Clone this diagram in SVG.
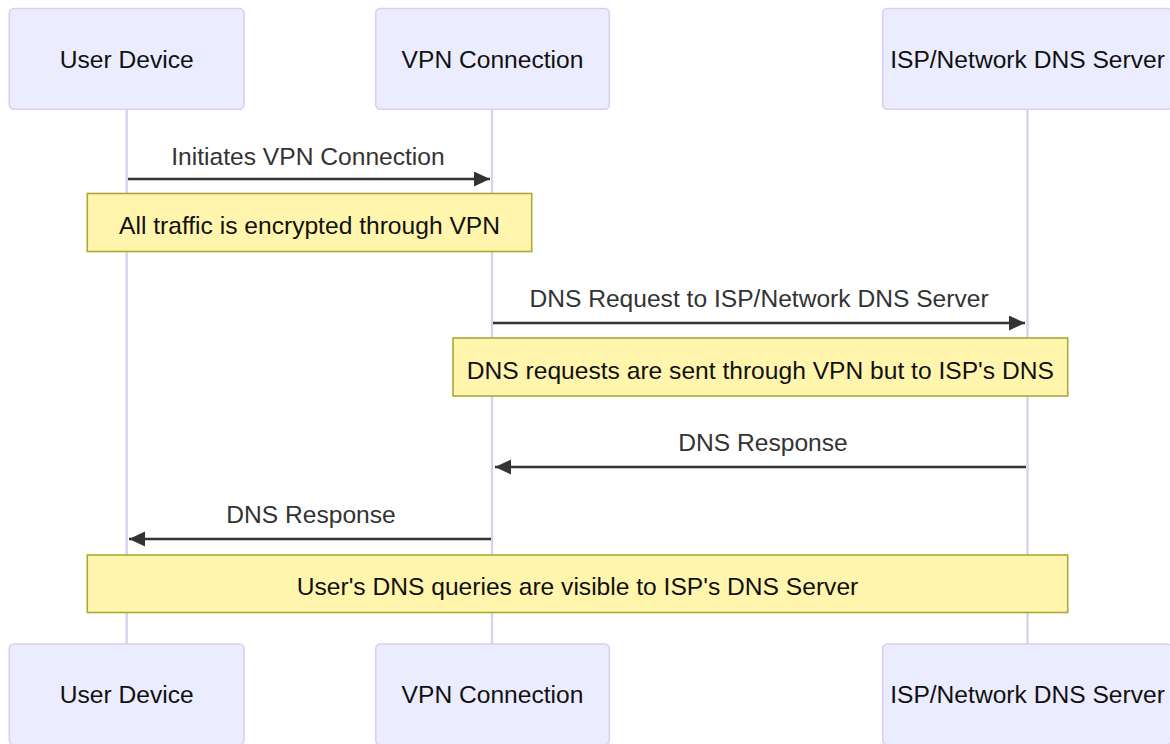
<svg xmlns="http://www.w3.org/2000/svg" width="1170" height="744" viewBox="0 0 1170 744">
<style>
.actor{fill:#ECECFF;stroke:#DACEF3;stroke-width:1.6}
.atext{font-family:"Liberation Sans",Arial,sans-serif;font-size:24.6px;fill:#111;text-anchor:middle}
.life{stroke:#DACEF3;stroke-width:2.4;fill:none}
.msg{stroke:#333;stroke-width:2.4;fill:none}
.mtext{font-family:"Liberation Sans",Arial,sans-serif;font-size:24.6px;fill:#333;text-anchor:middle}
.note{fill:#FFF5AD;stroke:#AAAA33;stroke-width:1.6}
.ntext{font-family:"Liberation Sans",Arial,sans-serif;font-size:24.6px;fill:#111;text-anchor:middle}
</style>
<defs>
<marker id="ah" markerUnits="userSpaceOnUse" markerWidth="17" markerHeight="16" refX="16" refY="7.5" orient="auto">
<path d="M0,0 L16,7.5 L0,15 z" fill="#333"/>
</marker>
</defs>
<rect width="1170" height="744" fill="#fff"/>
<g id="lifelines">
<line class="life" x1="126.7" y1="109" x2="126.7" y2="644"/>
<line class="life" x1="492" y1="109" x2="492" y2="644"/>
<line class="life" x1="1027.5" y1="109" x2="1027.5" y2="644"/>
</g>
<g id="actor-user-top"><rect class="actor" x="9.3" y="8.5" width="234.7" height="100.8" rx="4.7"/><text class="atext" x="126.7" y="68">User Device</text></g>
<g id="actor-vpn-top"><rect class="actor" x="375.7" y="8.5" width="233.6" height="100.8" rx="4.7"/><text class="atext" x="492.5" y="68">VPN Connection</text></g>
<g id="actor-isp-top"><rect class="actor" x="882.7" y="8.5" width="289" height="100.8" rx="4.7"/><text class="atext" x="1027.5" y="68">ISP/Network DNS Server</text></g>
<g id="actor-user-bottom"><rect class="actor" x="9.3" y="644" width="234.7" height="100.8" rx="4.7"/><text class="atext" x="126.7" y="703">User Device</text></g>
<g id="actor-vpn-bottom"><rect class="actor" x="375.7" y="644" width="233.6" height="100.8" rx="4.7"/><text class="atext" x="492.5" y="703">VPN Connection</text></g>
<g id="actor-isp-bottom"><rect class="actor" x="882.7" y="644" width="289" height="100.8" rx="4.7"/><text class="atext" x="1027.5" y="703">ISP/Network DNS Server</text></g>
<g id="connectors">
<line class="msg" x1="128" y1="179" x2="490" y2="179" marker-end="url(#ah)"/>
<text class="mtext" x="308" y="165">Initiates VPN Connection</text>
<line class="msg" x1="493" y1="323" x2="1025" y2="323" marker-end="url(#ah)"/>
<text class="mtext" x="759" y="307">DNS Request to ISP/Network DNS Server</text>
<line class="msg" x1="1026" y1="467" x2="495" y2="467" marker-end="url(#ah)"/>
<text class="mtext" x="763" y="451">DNS Response</text>
<line class="msg" x1="491" y1="539" x2="129" y2="539" marker-end="url(#ah)"/>
<text class="mtext" x="311" y="523">DNS Response</text>
</g>
<g id="note-1"><rect class="note" x="87.3" y="193.5" width="444.4" height="58"/><text class="ntext" x="309.5" y="234">All traffic is encrypted through VPN</text></g>
<g id="note-2"><rect class="note" x="453" y="338" width="614.7" height="58"/><text class="ntext" x="760.3" y="378.5">DNS requests are sent through VPN but to ISP's DNS</text></g>
<g id="note-3"><rect class="note" x="87.3" y="555" width="980.4" height="57.5"/><text class="ntext" x="577.5" y="595">User's DNS queries are visible to ISP's DNS Server</text></g>
</svg>
